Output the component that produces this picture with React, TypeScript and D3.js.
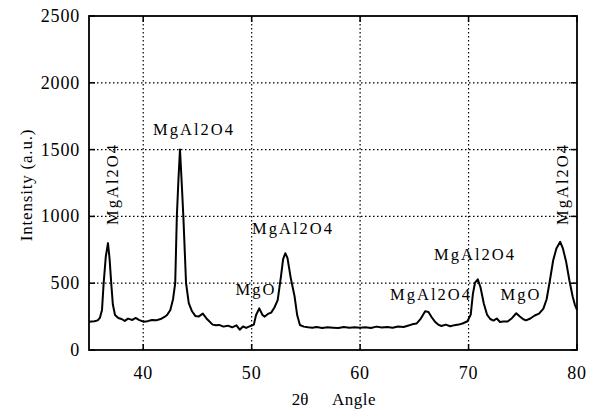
import React from "react";
import * as d3 from "d3";

const angles = [
  35.0, 35.5, 35.8, 36.0, 36.2, 36.35, 36.55, 36.75, 36.9, 37.05, 37.2, 37.4, 37.7, 38.0, 38.3, 38.6, 39.0, 39.3, 39.6, 40.0,
  40.4, 40.8, 41.2, 41.6, 42.0, 42.2, 42.5, 42.75, 42.95, 43.1, 43.25, 43.39, 43.55, 43.7, 43.95, 44.2, 44.5, 44.8, 45.1, 45.5,
  45.9, 46.4, 46.7, 47.0, 47.4, 47.8, 48.2, 48.6, 48.9, 49.2, 49.5, 49.9, 50.2, 50.4, 50.7, 51.0, 51.2, 51.5, 51.8, 52.1,
  52.4, 52.7, 52.9, 53.1, 53.3, 53.6, 53.96, 54.2, 54.45, 54.8, 55.2, 55.6, 56.0, 56.5, 57.0, 57.5, 58.0, 58.5, 59.0, 59.5,
  60.0, 60.5, 61.0, 61.5, 62.0, 62.5, 63.0, 63.5, 64.0, 64.4, 64.8, 65.2, 65.6, 66.0, 66.3, 66.6, 66.9, 67.2, 67.5, 67.9,
  68.3, 68.7, 69.1, 69.5, 69.9, 70.2, 70.4, 70.6, 70.85, 71.1, 71.4, 71.7, 72.0, 72.3, 72.6, 72.9, 73.2, 73.6, 74.0, 74.4,
  74.7, 75.05, 75.3, 75.7, 76.1, 76.5, 76.9, 77.2, 77.5, 77.8, 78.1, 78.45, 78.7, 79.0, 79.3, 79.6, 79.8, 80.0,
];

const intensities = [
  212, 215, 222, 240, 300, 500, 700, 800, 680, 500, 340, 262, 240, 232, 218, 235, 225, 240, 226, 212,
  216, 225, 222, 232, 250, 262, 300, 380, 500, 1000, 1280, 1500, 1250, 1000, 500, 350, 290, 255, 250, 272,
  230, 190, 185, 188, 175, 182, 170, 185, 152, 176, 165, 180, 190, 260, 312, 262, 250, 270, 280, 318,
  374, 549, 680, 724, 690, 540, 400, 260, 187, 175, 170, 167, 172, 164, 170, 167, 164, 172, 167, 170,
  166, 170, 164, 175, 169, 172, 167, 176, 172, 182, 192, 198, 235, 290, 285, 245, 212, 190, 180, 190,
  178, 186, 190, 200, 215, 265, 420, 505, 529, 470, 350, 265, 232, 220, 236, 210, 214, 213, 238, 275,
  252, 230, 222, 236, 258, 272, 310, 380, 520, 670, 760, 810, 760, 660, 520, 400, 340, 300,
];

const xTicks = [40, 50, 60, 70, 80];
const yTicks = [0, 500, 1000, 1500, 2000, 2500];

const peakLabels = [
  { text: "MgAl2O4", x: 112, y: 184, rotate: true },
  { text: "MgAl2O4", x: 194, y: 135, rotate: false },
  { text: "MgAl2O4", x: 293, y: 234, rotate: false },
  { text: "MgO", x: 256, y: 295, rotate: false },
  { text: "MgAl2O4", x: 431, y: 300, rotate: false },
  { text: "MgAl2O4", x: 475, y: 260, rotate: false },
  { text: "MgO", x: 521, y: 300, rotate: false },
  { text: "MgAl2O4", x: 562, y: 184, rotate: true },
];

const W = 602;
const H = 413;
const M = { left: 89, top: 16, right: 577, bottom: 350 };
const FONT = "'Liberation Serif', 'Times New Roman', serif";

export default function App() {
  const x = d3.scaleLinear().domain([35, 80]).range([M.left, M.right]);
  const y = d3.scaleLinear().domain([0, 2500]).range([M.bottom, M.top]);
  const pts: [number, number][] = angles.map((a, i) => [a, intensities[i]]);
  const line = d3
    .line<[number, number]>()
    .x((d) => x(d[0]))
    .y((d) => y(d[1]));

  return (
    <svg
      width={W}
      height={H}
      style={{ position: "absolute", left: 0, top: 0, background: "#fff" }}
      fontFamily={FONT}
    >
      <rect x={0} y={0} width={W} height={H} fill="#fff" />
      {/* grid */}
      {xTicks
        .filter((t) => t > 35 && t < 80)
        .map((t) => (
          <line
            key={"gx" + t}
            x1={x(t)}
            x2={x(t)}
            y1={M.top}
            y2={M.bottom}
            stroke="#000"
            strokeWidth={1.2}
            strokeDasharray="1.5,2.5"
          />
        ))}
      {yTicks
        .filter((t) => t > 0 && t < 2500)
        .map((t) => (
          <line
            key={"gy" + t}
            x1={M.left}
            x2={M.right}
            y1={y(t)}
            y2={y(t)}
            stroke="#000"
            strokeWidth={1.2}
            strokeDasharray="1.5,2.5"
          />
        ))}
      {/* inward ticks */}
      {yTicks.map((t) => (
        <g key={"ty" + t}>
          <line x1={M.left} x2={M.left + 6} y1={y(t)} y2={y(t)} stroke="#000" strokeWidth={1.5} />
          <line x1={M.right} x2={M.right - 6} y1={y(t)} y2={y(t)} stroke="#000" strokeWidth={1.5} />
        </g>
      ))}
      {xTicks.map((t) => (
        <g key={"tx" + t}>
          <line x1={x(t)} x2={x(t)} y1={M.bottom} y2={M.bottom - 6} stroke="#000" strokeWidth={1.5} />
          <line x1={x(t)} x2={x(t)} y1={M.top} y2={M.top + 6} stroke="#000" strokeWidth={1.5} />
        </g>
      ))}
      {/* curve */}
      <path d={line(pts) || ""} fill="none" stroke="#000" strokeWidth={2} strokeLinejoin="round" />
      {/* frame */}
      <rect
        x={M.left}
        y={M.top}
        width={M.right - M.left}
        height={M.bottom - M.top}
        fill="none"
        stroke="#000"
        strokeWidth={1.8}
      />
      {/* tick labels */}
      {yTicks.map((t) => (
        <text
          key={"ly" + t}
          x={M.left - 9}
          y={y(t)}
          textAnchor="end"
          dominantBaseline="central"
          fontSize={18}
          letterSpacing={0.8}
        >
          {t}
        </text>
      ))}
      {xTicks.map((t) => (
        <text key={"lx" + t} x={x(t)} y={379} textAnchor="middle" fontSize={18} letterSpacing={0.8}>
          {t}
        </text>
      ))}
      {/* axis titles */}
      <text x={300} y={405} fontSize={17} textAnchor="middle">
        2θ
      </text>
      <text x={332} y={405} fontSize={17} letterSpacing={0.5}>
        Angle
      </text>
      <text
        transform={`translate(26,185) rotate(-90)`}
        textAnchor="middle"
        dominantBaseline="central"
        fontSize={17}
        letterSpacing={0.8}
      >
        Intensity (a.u.)
      </text>
      {/* peak labels */}
      {peakLabels.map((l, i) =>
        l.rotate ? (
          <text
            key={"pl" + i}
            transform={`translate(${l.x},${l.y}) rotate(-90)`}
            textAnchor="middle"
            dominantBaseline="central"
            fontSize={16.5}
            letterSpacing={2}
          >
            {l.text}
          </text>
        ) : (
          <text key={"pl" + i} x={l.x} y={l.y} textAnchor="middle" fontSize={16.5} letterSpacing={2}>
            {l.text}
          </text>
        )
      )}
    </svg>
  );
}
